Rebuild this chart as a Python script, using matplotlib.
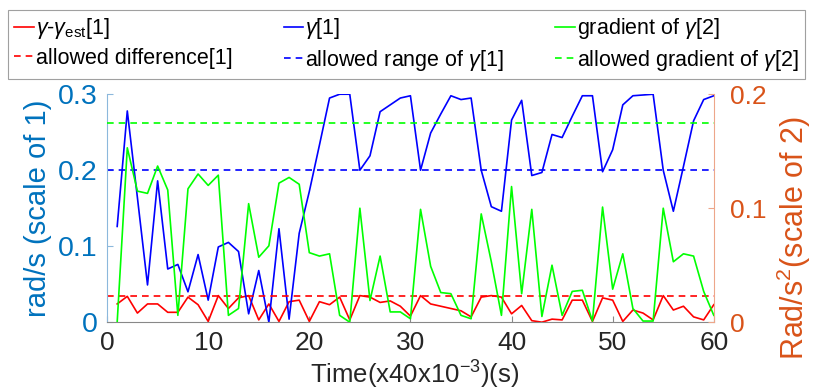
import numpy as np
import matplotlib.pyplot as plt

plt.rcParams['font.family'] = ['Liberation Sans', 'DejaVu Sans']
plt.rcParams['mathtext.fontset'] = 'custom'
plt.rcParams['mathtext.rm'] = 'Liberation Sans'
plt.rcParams['mathtext.it'] = 'Liberation Sans:italic'

# --- Data ---
t = np.arange(1, 61)

gamma_diff = [0.024, 0.034, 0.012, 0.024, 0.024, 0.013, 0.013, 0.033, 0.023, 0.001,
              0.035, 0.018, 0.032, 0.035, 0.003, 0.024, 0.001, 0.027, 0.029, 0.001,
              0.027, 0.023, 0.033, 0.003, 0.035, 0.033, 0.026, 0.028, 0.021, 0.008,
              0.035, 0.024, 0.021, 0.018, 0.015, 0.007, 0.033, 0.035, 0.033, 0.011,
              0.022, 0.002, 0.000, 0.004, 0.003, 0.029, 0.029, 0.001, 0.032, 0.029,
              0.001, 0.016, 0.012, 0.003, 0.035, 0.016, 0.021, 0.007, 0.003, 0.023]

gamma = [0.126, 0.278, 0.164, 0.049, 0.186, 0.070, 0.076, 0.040, 0.089, 0.029,
         0.099, 0.105, 0.093, 0.011, 0.068, 0.000, 0.123, 0.004, 0.117, 0.172,
         0.233, 0.295, 0.300, 0.300, 0.200, 0.219, 0.277, 0.286, 0.295, 0.298,
         0.200, 0.249, 0.274, 0.298, 0.293, 0.295, 0.200, 0.152, 0.146, 0.266,
         0.292, 0.193, 0.197, 0.247, 0.243, 0.271, 0.298, 0.298, 0.198, 0.227,
         0.286, 0.298, 0.299, 0.300, 0.200, 0.146, 0.205, 0.265, 0.293, 0.298]

grad_gamma = [0.000, 0.153, 0.115, 0.113, 0.137, 0.116, 0.006, 0.117, 0.130, 0.120,
              0.129, 0.006, 0.012, 0.104, 0.057, 0.067, 0.122, 0.127, 0.121, 0.061,
              0.058, 0.060, 0.006, 0.000, 0.100, 0.019, 0.058, 0.009, 0.009, 0.003,
              0.099, 0.049, 0.026, 0.025, 0.006, 0.003, 0.095, 0.053, 0.006, 0.119,
              0.025, 0.099, 0.005, 0.050, 0.006, 0.027, 0.028, 0.001, 0.101, 0.029,
              0.060, 0.012, 0.001, 0.001, 0.100, 0.053, 0.060, 0.058, 0.027, 0.006]

allowed_diff = 0.035
allowed_range = 0.2
allowed_grad = 0.175

left_col = '#0072BD'
right_col = '#D95319'

fig = plt.figure(figsize=(8.3, 3.91), dpi=100)
ax = fig.add_axes([0.129, 0.176, 0.731, 0.583])
ax2 = ax.twinx()

l1, = ax.plot(t, gamma_diff, color='#FF0000', lw=1.2)
l2, = ax.plot(t, gamma, color='#0000FF', lw=1.2)
l4, = ax.plot([0, 60], [allowed_diff] * 2, color='#FF0000', lw=1.2, ls=(0, (4, 3)))
l5, = ax.plot([0, 60], [allowed_range] * 2, color='#0000FF', lw=1.2, ls=(0, (4, 3)))
l3, = ax2.plot(t, grad_gamma, color='#00FF00', lw=1.2)
l6, = ax2.plot([0, 60], [allowed_grad] * 2, color='#00FF00', lw=1.2, ls=(0, (4, 3)))

ax.set_xlim(0, 60)
ax.set_ylim(0, 0.3)
ax2.set_ylim(0, 0.2)
ax.set_xticks(range(0, 61, 10))
ax.set_yticks([0, 0.1, 0.2, 0.3])
ax2.set_yticks([0, 0.1, 0.2])
ax.set_yticklabels(['0', '0.1', '0.2', '0.3'])
ax2.set_yticklabels(['0', '0.1', '0.2'])

for a in (ax, ax2):
    a.spines['top'].set_visible(False)
ax.spines['left'].set_color('#8CB8DC')
ax2.spines['left'].set_visible(False)
ax.spines['right'].set_visible(False)
ax2.spines['right'].set_color('#EDA68A')
ax.spines['bottom'].set_color('#888888')
ax2.spines['bottom'].set_visible(False)

ax.tick_params(axis='x', direction='in', length=4, color='#888888',
               labelsize=19, labelcolor='#262626', pad=6)
ax.tick_params(axis='y', direction='in', length=4, color='#8CB8DC',
               labelsize=20.5, labelcolor=left_col, pad=7)
ax2.tick_params(axis='y', direction='in', length=4, color='#EDA68A',
                labelsize=19, labelcolor=right_col, pad=12)

ax.set_xlabel(r'Time(x40x10$^{-3}$)(s)', fontsize=18.5, color='#262626')
ax.xaxis.set_label_coords(0.507, -0.16)
ax.set_ylabel('rad/s (scale of 1)', fontsize=21, color=left_col)
ax.yaxis.set_label_coords(-0.09, 0.5)
ax2.set_ylabel(r'Rad/s$^2$(scale of 2)', fontsize=22, color=right_col)
ax2.yaxis.set_label_coords(1.1, 0.37)

handles = [l1, l4, l2, l5, l3, l6]
labels = [r'$\gamma$-$\gamma_{\rm est}$[1]', 'allowed difference[1]',
          r'$\gamma$[1]', r'allowed range of $\gamma$[1]',
          r'gradient of $\gamma$[2]', r'allowed gradient of $\gamma$[2]']
leg = fig.legend(handles, labels, ncol=3, loc='lower left',
                 bbox_to_anchor=(8 / 830, 1 - 79 / 391, 797 / 830, 77 / 391),
                 mode='expand', fontsize=15.5, frameon=True, fancybox=False,
                 handlelength=0.9, handletextpad=0.1, columnspacing=0.2,
                 borderaxespad=0, borderpad=0.3, labelspacing=0.3)
leg.get_frame().set_edgecolor('#888888')
leg.get_frame().set_linewidth(0.8)

fig.savefig('out.png', dpi=100)
